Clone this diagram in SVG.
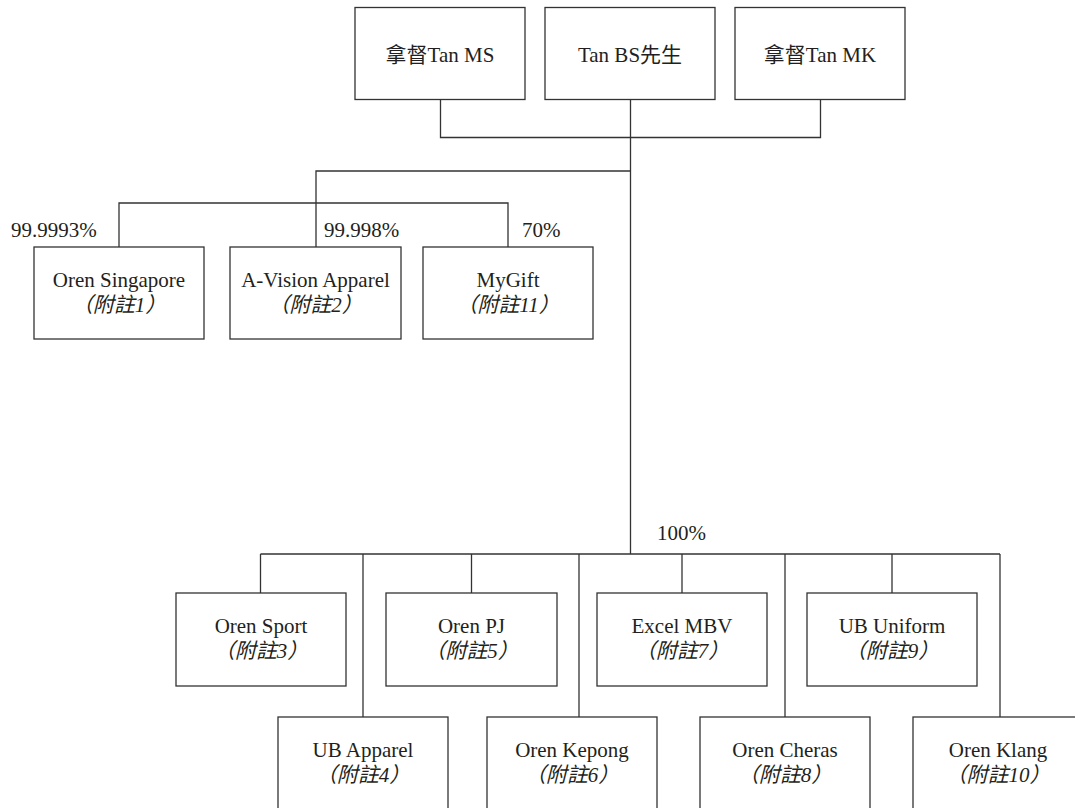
<svg xmlns="http://www.w3.org/2000/svg" width="1075" height="808" viewBox="0 0 1075 808">
<style>
.box{fill:#fff;stroke:#333;stroke-width:1.3}
.ln{fill:none;stroke:#333;stroke-width:1.3}
text{font-family:"Liberation Serif","Noto Sans CJK TC",serif;font-size:21px;fill:#231f20}
.c{text-anchor:middle}
.n{font-style:italic}
</style>
<rect width="1075" height="808" fill="#fff"/>
<g id="connectors">
<polyline class="ln" points="440.5,99.5 440.5,137.5 820.5,137.5 820.5,99.5"/>
<line class="ln" x1="630.5" y1="99.5" x2="630.5" y2="554"/>
<polyline class="ln" points="630.5,171 316,171 316,247"/>
<polyline class="ln" points="119,247 119,203 508,203 508,247"/>
<line class="ln" x1="260.5" y1="554" x2="1000" y2="554"/>
<line class="ln" x1="260.5" y1="554" x2="260.5" y2="593"/>
<line class="ln" x1="363" y1="554" x2="363" y2="717"/>
<line class="ln" x1="471.5" y1="554" x2="471.5" y2="593"/>
<line class="ln" x1="579" y1="554" x2="579" y2="717"/>
<line class="ln" x1="682" y1="554" x2="682" y2="593"/>
<line class="ln" x1="785" y1="554" x2="785" y2="717"/>
<line class="ln" x1="892" y1="554" x2="892" y2="593"/>
<line class="ln" x1="1000" y1="554" x2="1000" y2="717"/>
</g>
<g id="labels">
<text x="11" y="237">99.9993%</text>
<text x="324" y="237">99.998%</text>
<text x="522" y="237">70%</text>
<text x="657" y="540">100%</text>
</g>
<g id="n-tanms"><rect class="box" x="355" y="7.5" width="170" height="92"/><text class="c" x="440" y="62">拿督Tan MS</text></g>
<g id="n-tanbs"><rect class="box" x="545" y="7.5" width="170" height="92"/><text class="c" x="630" y="62">Tan BS先生</text></g>
<g id="n-tanmk"><rect class="box" x="735" y="7.5" width="170" height="92"/><text class="c" x="820" y="62">拿督Tan MK</text></g>

<g id="n-orensg"><rect class="box" x="34" y="247" width="170" height="92"/><text class="c" x="119" y="287">Oren Singapore</text><text class="c n" x="119" y="312">（附註1）</text></g>
<g id="n-avision"><rect class="box" x="230" y="247" width="171" height="92"/><text class="c" x="315.5" y="287">A-Vision Apparel</text><text class="c n" x="315.5" y="312">（附註2）</text></g>
<g id="n-mygift"><rect class="box" x="423" y="247" width="170" height="92"/><text class="c" x="508" y="287">MyGift</text><text class="c n" x="508" y="312">（附註11）</text></g>

<g id="n-orensport"><rect class="box" x="176" y="593" width="170" height="93"/><text class="c" x="261" y="633">Oren Sport</text><text class="c n" x="261" y="658">（附註3）</text></g>
<g id="n-orenpj"><rect class="box" x="386" y="593" width="171" height="93"/><text class="c" x="471.5" y="633">Oren PJ</text><text class="c n" x="471.5" y="658">（附註5）</text></g>
<g id="n-excel"><rect class="box" x="597" y="593" width="170" height="93"/><text class="c" x="682" y="633">Excel MBV</text><text class="c n" x="682" y="658">（附註7）</text></g>
<g id="n-ubuniform"><rect class="box" x="807" y="593" width="170" height="93"/><text class="c" x="892" y="633">UB Uniform</text><text class="c n" x="892" y="658">（附註9）</text></g>

<g id="n-ubapparel"><rect class="box" x="278" y="717" width="170" height="110"/><text class="c" x="363" y="757">UB Apparel</text><text class="c n" x="363" y="782">（附註4）</text></g>
<g id="n-orenkepong"><rect class="box" x="487" y="717" width="170" height="110"/><text class="c" x="572" y="757">Oren Kepong</text><text class="c n" x="572" y="782">（附註6）</text></g>
<g id="n-orencheras"><rect class="box" x="700" y="717" width="170" height="110"/><text class="c" x="785" y="757">Oren Cheras</text><text class="c n" x="785" y="782">（附註8）</text></g>
<g id="n-orenklang"><rect class="box" x="913" y="717" width="170" height="110"/><text class="c" x="998" y="757">Oren Klang</text><text class="c n" x="998" y="782">（附註10）</text></g>
</svg>
